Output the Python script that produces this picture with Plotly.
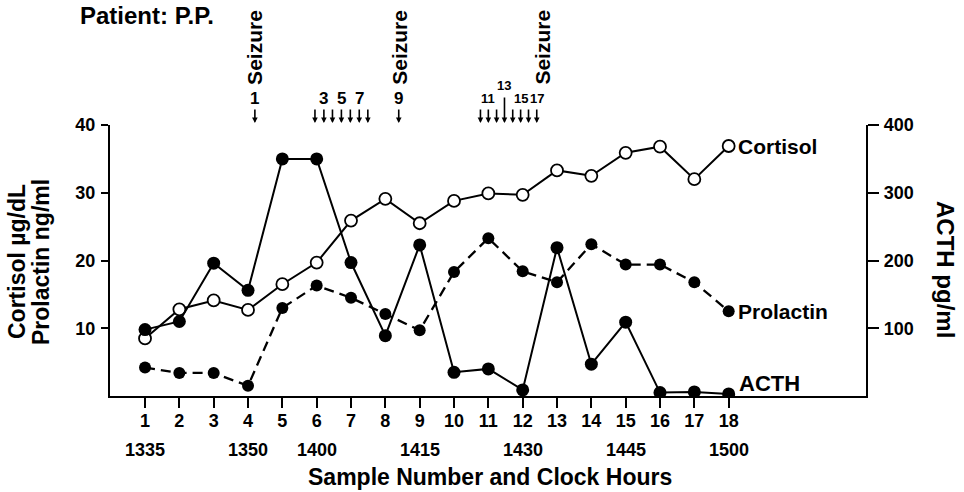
import plotly.graph_objects as go

# ---- data ----
samples = list(range(1, 19))
sample_labels = [str(s) for s in samples]
cortisol = [8.5, 12.8, 14.1, 12.7, 16.5, 19.7, 25.9, 29.1, 25.5, 28.8, 29.9, 29.7, 33.3, 32.5, 35.9, 36.8, 32.0, 36.9]
prolactin = [4.2, 3.4, 3.4, 1.5, 13.0, 16.3, 14.5, 12.1, 9.7, 18.3, 23.3, 18.4, 16.8, 22.4, 19.4, 19.4, 16.8, 12.5]
acth = [98, 110, 196, 156, 350, 350, 197, 89, 223, 35, 40, 9, 219, 47, 109, 5, 6, 3]

clock_samples = [1, 4, 6, 9, 12, 15, 18]
clock_labels = ["1335", "1350", "1400", "1415", "1430", "1445", "1500"]

left_ticks = [10, 20, 30, 40]
right_ticks = [100, 200, 300, 400]

seizure_positions = [4.20, 8.42, 12.58]
arrow_positions = [4.20,
                   5.95, 6.21, 6.46, 6.72, 6.98, 7.24, 7.49,
                   8.39,
                   10.77, 11.00, 11.24, 11.47, 11.71, 11.94, 12.17, 12.41]
arrow_numbers = [1, 2, 3, 4, 5, 6, 7, 8, 9, 10, 11, 12, 13, 14, 15, 16, 17]
labeled_numbers = [1, 3, 5, 7, 9, 11, 13, 15, 17]

FONT = "Liberation Sans"
BLACK = "#000000"


def px_x(p):
    # page pixel -> paper x (plot area spans page px 110..866)
    return (p - 110) / 756


def px_y(p):
    # page pixel -> paper y (plot area spans page px 396..125)
    return (396 - p) / 271


fig = go.Figure()

fig.add_trace(go.Scatter(
    x=samples, y=cortisol, mode="lines+markers", name="Cortisol",
    line=dict(color=BLACK, width=2),
    marker=dict(symbol="circle", size=12, color="white", line=dict(color=BLACK, width=1.8)),
    yaxis="y"))
fig.add_trace(go.Scatter(
    x=samples, y=prolactin, mode="lines+markers", name="Prolactin",
    line=dict(color=BLACK, width=2.3, dash="10px,6px"),
    marker=dict(symbol="circle", size=12, color=BLACK),
    yaxis="y"))
fig.add_trace(go.Scatter(
    x=samples, y=acth, mode="lines+markers", name="ACTH",
    line=dict(color=BLACK, width=2),
    marker=dict(symbol="circle", size=13, color=BLACK),
    yaxis="y2"))

tickfont = dict(family=FONT, size=18, color=BLACK, weight="bold")

fig.update_layout(
    width=964, height=492,
    margin=dict(l=110, r=98, t=125, b=96),
    paper_bgcolor="white", plot_bgcolor="white",
    showlegend=False,
    font=dict(family=FONT, color=BLACK),
    xaxis=dict(range=[-0.02, 22.0], tickvals=samples, ticktext=sample_labels,
               showgrid=False, zeroline=False, showline=True, linecolor=BLACK, linewidth=2.2,
               ticks="outside", ticklen=10, tickwidth=2, tickcolor=BLACK,
               tickfont=tickfont, ticklabelstandoff=-3, fixedrange=True),
    yaxis=dict(range=[0, 40], tickvals=left_ticks, showgrid=False, zeroline=False,
               showline=True, linecolor=BLACK, linewidth=2.2,
               ticks="outside", ticklen=7, tickwidth=2, tickcolor=BLACK,
               tickfont=tickfont, ticklabelstandoff=2),
    yaxis2=dict(range=[0, 400], tickvals=right_ticks, overlaying="y", side="right",
                showgrid=False, zeroline=False, showline=True, linecolor=BLACK, linewidth=2.2,
                ticks="outside", ticklen=11, tickwidth=2, tickcolor=BLACK,
                tickfont=tickfont, ticklabelstandoff=1),
)

ann = []
# clock hour labels
for s, lab in zip(clock_samples, clock_labels):
    ann.append(dict(x=s, y=px_y(450), xref="x", yref="paper", text=lab, showarrow=False,
                    xanchor="center", yanchor="middle",
                    font=dict(family=FONT, size=18, color=BLACK, weight="bold")))
# x axis title
ann.append(dict(x=px_x(490), y=px_y(477), xref="paper", yref="paper",
                text="Sample Number and Clock Hours", showarrow=False,
                xanchor="center", yanchor="middle",
                font=dict(family=FONT, size=23, color=BLACK, weight="bold")))
# left y title (two lines)
for text, cx in [("Cortisol µg/dL", 17), ("Prolactin ng/ml", 41)]:
    ann.append(dict(x=px_x(cx), y=px_y(262), xref="paper", yref="paper",
                    text=text, textangle=-90, showarrow=False,
                    xanchor="center", yanchor="middle",
                    font=dict(family=FONT, size=23, color=BLACK, weight="bold")))
# right y title
ann.append(dict(x=px_x(946), y=px_y(269), xref="paper", yref="paper",
                text="ACTH pg/ml", textangle=90, showarrow=False,
                xanchor="center", yanchor="middle",
                font=dict(family=FONT, size=24, color=BLACK, weight="bold")))
# patient label
ann.append(dict(x=px_x(78), y=px_y(16), xref="paper", yref="paper",
                text="Patient: P.P.", showarrow=False, xanchor="left", yanchor="middle",
                font=dict(family=FONT, size=24, color=BLACK, weight="bold")))
# series labels
for name, yv in [("Cortisol", cortisol[-1]), ("Prolactin", prolactin[-1])]:
    ann.append(dict(x=18, y=yv, xref="x", yref="y", text=name, showarrow=False,
                    xanchor="left", yanchor="middle", xshift=7,
                    font=dict(family=FONT, size=21, color=BLACK, weight="bold")))
ann.append(dict(x=18, y=acth[-1] / 10, xref="x", yref="y", text="ACTH", showarrow=False,
                xanchor="left", yanchor="middle", xshift=8, yshift=10,
                font=dict(family=FONT, size=22, color=BLACK, weight="bold")))
# seizure labels
for sp in seizure_positions:
    ann.append(dict(x=sp, y=px_y(47), xref="x", yref="paper", text="Seizure",
                    textangle=-90, showarrow=False, xanchor="center", yanchor="middle",
                    font=dict(family=FONT, size=21, color=BLACK, weight="bold")))
# arrows and their numbers
tip_y = px_y(123)
for xp, n in zip(arrow_positions, arrow_numbers):
    ann.append(dict(x=xp, y=tip_y, xref="x", yref="paper", text="", showarrow=True,
                    ax=0, ay=-27 if n == 13 else -15, arrowhead=2, arrowsize=0.7,
                    arrowwidth=1.6, arrowcolor=BLACK))
    if n in labeled_numbers:
        small = n >= 11
        ly = px_y(85) if n == 13 else px_y(98)
        ann.append(dict(x=xp, y=ly, xref="x", yref="paper", text=str(n), showarrow=False,
                        xanchor="center", yanchor="middle",
                        font=dict(family=FONT, size=13 if small else 17, color=BLACK, weight="bold")))

fig.update_layout(annotations=ann)
fig.write_html("out.html",
               config={"displayModeBar": False},
               post_script="document.body.style.margin='0';document.body.style.overflow='hidden';")
